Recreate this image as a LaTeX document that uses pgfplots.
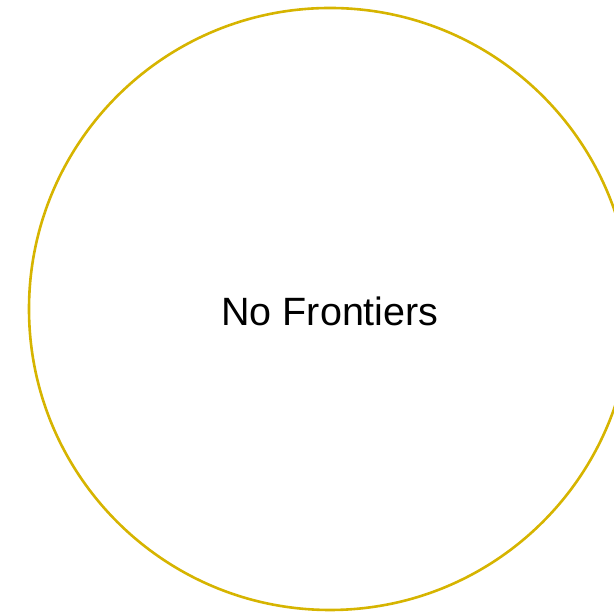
\documentclass[border=0pt]{standalone}
\usepackage{pgfplots}
\pgfplotsset{compat=1.18}
\usepackage{fontspec}
\setmainfont{Liberation Sans}
\definecolor{gold}{RGB}{214,180,0}
\begin{document}
\begin{tikzpicture}
\begin{axis}[
  name=main,
  scale only axis, width=614pt, height=612pt,
  xmin=0, xmax=614, ymin=0, ymax=612,
  hide axis, clip=true,
]
\addplot[only marks, mark=o, mark size=301pt, mark options={draw=gold, line width=2.6pt}] coordinates {(330,303)};
\node[anchor=base, font=\fontsize{39.5}{46}\selectfont] at (axis cs:330,286) {No Frontiers};
\end{axis}
\pgfresetboundingbox
\path[use as bounding box] (main.south west) rectangle (main.north east);
\end{tikzpicture}
\end{document}
